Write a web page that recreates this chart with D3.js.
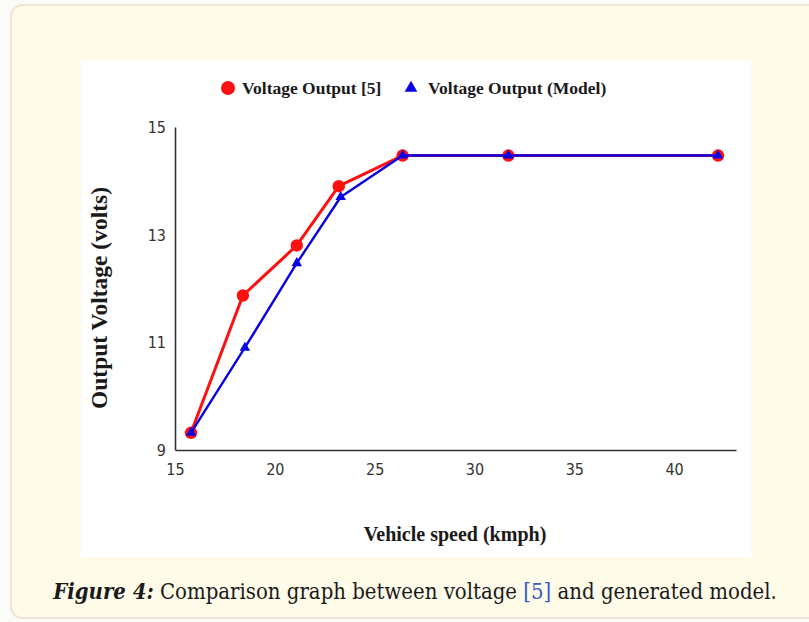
<!DOCTYPE html>
<html>
<head>
<meta charset="utf-8">
<script src="https://cdn.jsdelivr.net/npm/d3@7"></script>
<style>
  html, body { margin: 0; padding: 0; background: #fbfbf8; }
  svg { display: block; }
</style>
</head>
<body>
<svg id="chart" width="809" height="622"></svg>
<script>
// ---- Data ----
const speedRef = [15.8, 18.4, 21.1, 23.2, 26.4, 31.7, 42.2];
const voltRef = [9.32, 11.87, 12.8, 13.9, 14.47, 14.47, 14.47];
const speedModel = [15.8, 18.5, 21.1, 23.3, 26.4, 31.7, 42.2];
const voltModel = [9.32, 10.9, 12.47, 13.7, 14.47, 14.47, 14.47];
const xTicks = [15, 20, 25, 30, 35, 40];
const yTicks = [9, 11, 13, 15];
const seriesNames = ["Voltage Output [5]", "Voltage Output (Model)"];
const xTitle = "Vehicle speed (kmph)";
const yTitle = "Output Voltage (volts)";

const svg = d3.select("#chart");

// card background
svg.append("rect").attr("x", 11).attr("y", 5).attr("width", 830).attr("height", 613)
  .attr("rx", 11).attr("fill", "#fffbe9").attr("stroke", "#ebe7d6").attr("stroke-width", 2);

// white figure area
svg.append("rect").attr("x", 81).attr("y", 60).attr("width", 670).attr("height", 497).attr("fill", "#ffffff");

const x = d3.scaleLinear().domain([15, 43.1]).range([175, 736]);
const y = d3.scaleLinear().domain([9, 15]).range([450, 127]);

const axisColor = "#333";
const tickFont = "'Liberation Sans Narrow', 'DejaVu Sans Condensed', 'Liberation Sans', sans-serif";
const serif = "'Liberation Serif', 'Times New Roman', serif";

// axes
const gx = svg.append("g").attr("transform", `translate(0,${y(9)})`)
  .call(d3.axisBottom(x).tickValues(xTicks).tickSize(0).tickPadding(14).tickFormat(d3.format("d")));
const gy = svg.append("g").attr("transform", `translate(${x(15)},0)`)
  .call(d3.axisLeft(y).tickValues(yTicks).tickSize(0).tickPadding(9).tickFormat(d3.format("d")));
[gx, gy].forEach(g => {
  g.select(".domain").attr("stroke", axisColor).attr("stroke-width", 1.6);
  g.selectAll("text").attr("font-family", tickFont).attr("font-size", 16).attr("fill", "#333");
});
gy.selectAll("text").attr("dy", "0.35em");

// axis titles
svg.append("text").attr("x", 455).attr("y", 541).attr("text-anchor", "middle")
  .attr("font-family", serif).attr("font-weight", "bold").attr("font-size", 20).attr("fill", "#1a1a1a")
  .text(xTitle);
svg.append("text").attr("transform", `translate(107,298) rotate(-90)`).attr("text-anchor", "middle")
  .attr("font-family", serif).attr("font-weight", "bold").attr("font-size", 23.5).attr("fill", "#1a1a1a")
  .text(yTitle);

// lines
const refData = speedRef.map((s, i) => [s, voltRef[i]]);
const modelData = speedModel.map((s, i) => [s, voltModel[i]]);
const line = d3.line().x(d => x(d[0])).y(d => y(d[1]));

svg.append("path").datum(refData).attr("d", line).attr("fill", "none")
  .attr("stroke", "#ff1010").attr("stroke-width", 3.0).attr("stroke-linejoin", "round");
svg.selectAll(".refpt").data(refData).enter().append("circle")
  .attr("cx", d => x(d[0])).attr("cy", d => y(d[1])).attr("r", 6.2).attr("fill", "#ff1010");
svg.append("path").datum(modelData).attr("d", line).attr("fill", "none")
  .attr("stroke", "#0a00e6").attr("stroke-width", 2.4).attr("stroke-linejoin", "round");
const tri = d3.symbol().type(d3.symbolTriangle).size(48);
svg.selectAll(".modpt").data(modelData).enter().append("path")
  .attr("d", tri).attr("transform", d => `translate(${x(d[0])},${y(d[1])})`).attr("fill", "#0a00e6");

// legend
const lg = svg.append("g");
lg.append("circle").attr("cx", 228).attr("cy", 88).attr("r", 7).attr("fill", "#ff1010");
lg.append("text").attr("x", 242).attr("y", 94).attr("font-family", serif).attr("font-weight", "bold")
  .attr("font-size", 17.5).attr("fill", "#1a1a1a").text(seriesNames[0]);
lg.append("path").attr("d", d3.symbol().type(d3.symbolTriangle).size(70)())
  .attr("transform", "translate(411,88)").attr("fill", "#0a00e6");
lg.append("text").attr("x", 428).attr("y", 94).attr("font-family", serif).attr("font-weight", "bold")
  .attr("font-size", 17.5).attr("fill", "#1a1a1a").text(seriesNames[1]);

// caption
const cap = svg.append("text").attr("x", 415).attr("y", 599).attr("text-anchor", "middle")
  .attr("font-family", "'DejaVu Serif Condensed', 'DejaVu Serif', serif").attr("font-size", 20).attr("fill", "#1a1a1a");
cap.append("tspan").attr("font-weight", "bold").attr("font-style", "italic").text("Figure 4:");
cap.append("tspan").text(" Comparison graph between voltage ");
cap.append("tspan").attr("fill", "#3b5bc4").text("[5]");
cap.append("tspan").text(" and generated model.");
// fit caption to the reference width (53..777)
const w = cap.node().getComputedTextLength();
if (w > 0) cap.attr("font-size", Math.min(24, 20 * 724 / w));
</script>
</body>
</html>
